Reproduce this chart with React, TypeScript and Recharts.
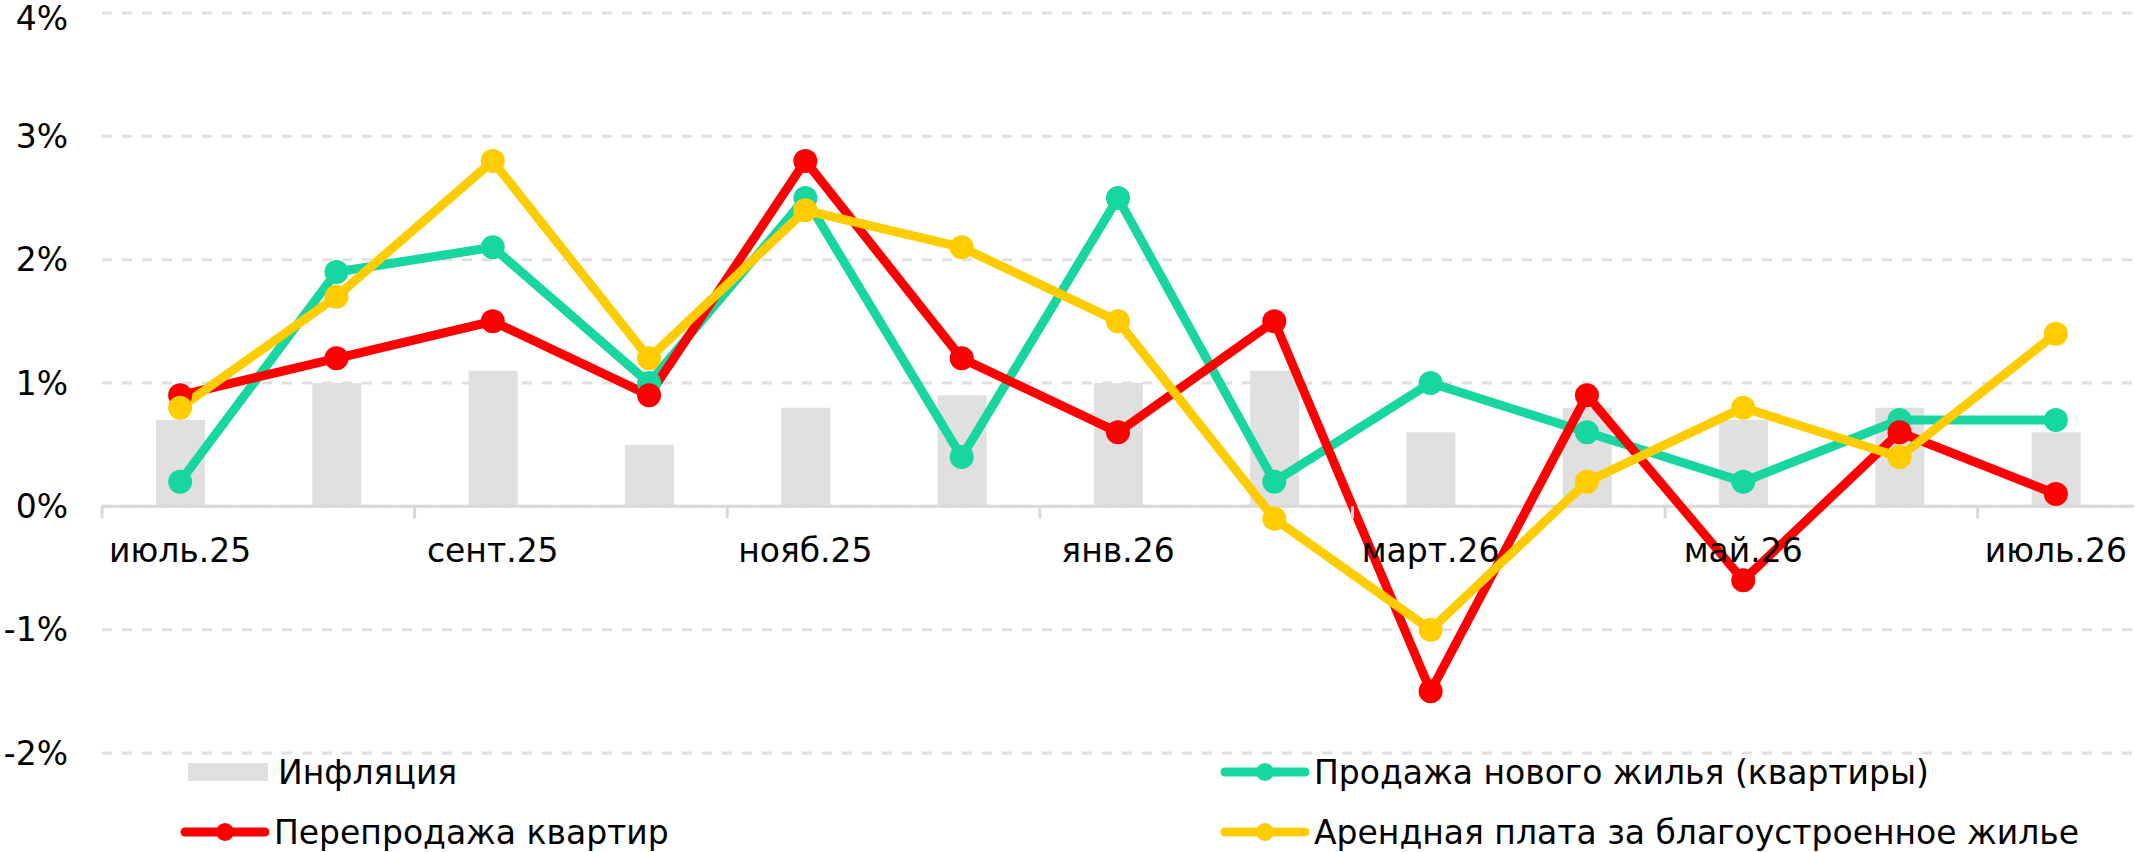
import React from "react";
import { ComposedChart, Bar, Line, XAxis, YAxis, CartesianGrid, ReferenceLine } from "recharts";

const months = [
  "июль.25", "авг.25", "сент.25", "окт.25", "нояб.25", "дек.25", "янв.26",
  "февр.26", "март.26", "апр.26", "май.26", "июнь.26", "июль.26",
];
const inflation = [0.7, 1.0, 1.1, 0.5, 0.8, 0.9, 1.0, 1.1, 0.6, 0.8, 0.7, 0.8, 0.6];
const newHomes = [0.2, 1.9, 2.1, 1.0, 2.5, 0.4, 2.5, 0.2, 1.0, 0.6, 0.2, 0.7, 0.7];
const resale = [0.9, 1.2, 1.5, 0.9, 2.8, 1.2, 0.6, 1.5, -1.5, 0.9, -0.6, 0.6, 0.1];
const rent = [0.8, 1.7, 2.8, 1.2, 2.4, 2.1, 1.5, -0.1, -1.0, 0.2, 0.8, 0.4, 1.4];
const yTicks = [-2, -1, 0, 1, 2, 3, 4];

const data = months.map((m, i) => ({
  month: m,
  inflation: inflation[i],
  newHomes: newHomes[i],
  resale: resale[i],
  rent: rent[i],
}));

const W = 2135;
const H = 852;
const TOP = 13;
const BOTTOM = 99;
const X_AXIS_H = 30;
const LEFT = 102;
const RIGHT = 1;
const PLOT_H = H - TOP - BOTTOM;
const BAND = (W - LEFT - RIGHT) / months.length;
const ZERO_Y = TOP + (PLOT_H * yTicks[yTicks.length - 1]) / (yTicks[yTicks.length - 1] - yTicks[0]);

const FONT = "'DejaVu Sans', Verdana, sans-serif";
const GREEN = "#17d6a0";
const RED = "#ff0000";
const YELLOW = "#ffcc00";
const GREY = "#e0e0e0";
const AXIS = "#d9d9d9";

// x labels sit under the zero line, not at the bottom of the plot
function MonthTick(props: any) {
  const { x, index, payload } = props;
  if (index % 2 !== 0) return <g />;
  const half = payload?.offset || BAND / 2;
  return (
    <g>
      <line x1={x - half} x2={x - half} y1={ZERO_Y} y2={ZERO_Y + 12} stroke={AXIS} strokeWidth={3} />
      <text x={x} y={ZERO_Y + 56} textAnchor="middle" fill="#000" fontSize={33} fontFamily={FONT}>
        {payload.value}
      </text>
    </g>
  );
}

function LineSwatch({ color }: { color: string }) {
  return (
    <svg width={90} height={24} style={{ display: "block" }}>
      <line x1={5} x2={85} y1={12} y2={12} stroke={color} strokeWidth={9} strokeLinecap="round" />
      <circle cx={45} cy={12} r={9} fill={color} />
    </svg>
  );
}

function LegendItem({ left, top, label, swatch }: { left: number; top: number; label: string; swatch: React.ReactNode }) {
  return (
    <div
      style={{
        position: "absolute",
        left,
        top: top - 20,
        height: 40,
        display: "flex",
        alignItems: "center",
        fontFamily: FONT,
        fontSize: 33,
        color: "#000",
        whiteSpace: "nowrap",
      }}
    >
      <div style={{ width: 94, display: "flex", alignItems: "center" }}>{swatch}</div>
      <span>{label}</span>
    </div>
  );
}

const lineProps = (color: string) => ({
  type: "linear" as const,
  stroke: color,
  strokeWidth: 9,
  dot: { r: 12, fill: color, stroke: color, strokeWidth: 0 },
  activeDot: false,
  isAnimationActive: false,
});

export default function App() {
  return (
    <div style={{ position: "absolute", left: 0, top: 0, width: W, height: H, background: "#fff" }}>
      <ComposedChart
        width={W}
        height={H}
        data={data}
        margin={{ top: TOP, right: RIGHT, bottom: BOTTOM - X_AXIS_H, left: 0 }}
        barCategoryGap={0}
      >
        <CartesianGrid vertical={false} stroke={GREY} strokeWidth={3} strokeDasharray="10 10" />
        <XAxis
          dataKey="month"
          height={X_AXIS_H}
          interval={0}
          axisLine={false}
          tickLine={false}
          tick={(p: any) => <MonthTick {...p} />}
        />
        <YAxis
          domain={[yTicks[0], yTicks[yTicks.length - 1]]}
          ticks={yTicks}
          width={LEFT}
          axisLine={false}
          tickLine={false}
          tickSize={0}
          tickMargin={34}
          tick={{ fill: "#000", fontSize: 33, fontFamily: FONT }}
          tickFormatter={(v: number) => `${v}%`}
        />
        <Bar dataKey="inflation" fill={GREY} barSize={49} isAnimationActive={false} />
        <ReferenceLine y={0} stroke={AXIS} strokeWidth={3} />
        <Line dataKey="newHomes" {...lineProps(GREEN)} />
        <Line dataKey="resale" {...lineProps(RED)} />
        <Line dataKey="rent" {...lineProps(YELLOW)} />
      </ComposedChart>
      <LegendItem
        left={184}
        top={772}
        label="Инфляция"
        swatch={<div style={{ width: 80, height: 18, background: GREY, marginLeft: 4 }} />}
      />
      <LegendItem left={180} top={832} label="Перепродажа квартир" swatch={<LineSwatch color={RED} />} />
      <LegendItem left={1220} top={772} label="Продажа нового жилья (квартиры)" swatch={<LineSwatch color={GREEN} />} />
      <LegendItem left={1220} top={832} label="Арендная плата за благоустроенное жилье" swatch={<LineSwatch color={YELLOW} />} />
    </div>
  );
}
